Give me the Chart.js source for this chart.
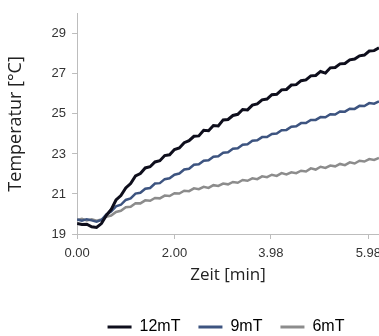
<!DOCTYPE html>
<html>
<head>
  <meta charset="UTF-8">
  <title>Temperatur</title>
  <script src="https://cdn.jsdelivr.net/npm/chart.js"></script>
</head>
<body style="margin:0;background:#fff">
  <canvas id="chart" width="379" height="336"></canvas>
  <script>
    const times = [0.0, 0.1, 0.2, 0.3, 0.4, 0.5, 0.6, 0.7, 0.8, 0.9,
      1.0, 1.1, 1.2, 1.3, 1.4, 1.5, 1.6, 1.7, 1.8, 1.9,
      2.0, 2.1, 2.2, 2.3, 2.4, 2.5, 2.6, 2.7, 2.8, 2.9,
      3.0, 3.1, 3.2, 3.3, 3.4, 3.5, 3.6, 3.7, 3.8, 3.9,
      4.0, 4.1, 4.2, 4.3, 4.4, 4.5, 4.6, 4.7, 4.8, 4.9,
      5.0, 5.1, 5.2, 5.3, 5.4, 5.5, 5.6, 5.7, 5.8, 5.9,
      6.0, 6.1, 6.2];

    const t12mT = [19.52, 19.47, 19.49, 19.36, 19.33, 19.52, 19.93, 20.22, 20.70, 20.92,
      21.30, 21.52, 21.90, 22.02, 22.30, 22.36, 22.60, 22.66, 22.92, 22.96,
      23.22, 23.30, 23.56, 23.66, 23.88, 23.90, 24.18, 24.16, 24.42, 24.40,
      24.70, 24.72, 24.92, 24.98, 25.22, 25.20, 25.44, 25.50, 25.70, 25.74,
      25.96, 25.98, 26.20, 26.22, 26.44, 26.46, 26.66, 26.70, 26.90, 26.92,
      27.12, 27.04, 27.30, 27.32, 27.50, 27.52, 27.70, 27.74, 27.90, 27.94,
      28.14, 28.16, 28.30];

    const t9mT = [19.72, 19.66, 19.74, 19.68, 19.62, 19.70, 19.98, 20.12, 20.38, 20.46,
      20.70, 20.78, 21.02, 21.06, 21.26, 21.30, 21.52, 21.54, 21.74, 21.78,
      21.96, 22.02, 22.22, 22.26, 22.46, 22.48, 22.66, 22.68, 22.86, 22.88,
      23.06, 23.08, 23.26, 23.28, 23.46, 23.48, 23.66, 23.68, 23.84, 23.84,
      24.00, 24.02, 24.18, 24.20, 24.36, 24.38, 24.54, 24.54, 24.70, 24.70,
      24.84, 24.83, 24.98, 24.97, 25.12, 25.11, 25.26, 25.25, 25.40, 25.39,
      25.54, 25.51, 25.62];

    const t6mT = [19.70, 19.76, 19.68, 19.74, 19.66, 19.72, 19.86, 19.92, 20.10, 20.16,
      20.34, 20.36, 20.54, 20.53, 20.68, 20.66, 20.80, 20.78, 20.92, 20.90,
      21.04, 21.02, 21.16, 21.14, 21.28, 21.24, 21.36, 21.30, 21.44, 21.40,
      21.52, 21.48, 21.60, 21.56, 21.70, 21.66, 21.78, 21.74, 21.88, 21.84,
      21.96, 21.90, 22.04, 21.98, 22.08, 22.04, 22.16, 22.12, 22.28, 22.22,
      22.36, 22.30, 22.42, 22.38, 22.50, 22.44, 22.58, 22.52, 22.66, 22.62,
      22.74, 22.70, 22.80];

    const xTicks = [0, 2.00, 3.98, 5.98];
    const yTicks = [19, 21, 23, 25, 27, 29];

    const toPoints = arr => arr.map((v, i) => ({ x: times[i], y: v }));

    // legend sits centred under the plot, a bit lower than chart.js puts it
    const shiftLegend = {
      id: 'shiftLegend',
      afterLayout(chart) {
        const lg = chart.legend;
        lg.left += 34; lg.right += 34;
        lg.top += 9; lg.bottom += 9;
      }
    };

    const ctx = document.getElementById('chart').getContext('2d');
    new Chart(ctx, {
      type: 'line',
      data: {
        datasets: [
          { label: '12mT', data: toPoints(t12mT), borderColor: '#0e0e1c', backgroundColor: '#0e0e1c', borderWidth: 3 },
          { label: '9mT', data: toPoints(t9mT), borderColor: '#3d5480', backgroundColor: '#3d5480', borderWidth: 2.5 },
          { label: '6mT', data: toPoints(t6mT), borderColor: '#8c8c8c', backgroundColor: '#8c8c8c', borderWidth: 2.5 }
        ]
      },
      plugins: [shiftLegend],
      options: {
        responsive: false,
        animation: false,
        layout: { padding: { top: 4, right: 0, bottom: 0, left: 5 } },
        elements: { point: { radius: 0 }, line: { tension: 0 } },
        plugins: {
          tooltip: { enabled: false },
          legend: {
            position: 'bottom',
            labels: {
              boxWidth: 24,
              boxHeight: 3,
              padding: 18,
              color: '#222',
              font: { family: 'Liberation Sans', size: 16 },
              generateLabels: chart => chart.data.datasets.map((ds, i) => ({
                text: ds.label, fillStyle: ds.borderColor, strokeStyle: ds.borderColor,
                lineWidth: 0, datasetIndex: i, hidden: false
              }))
            }
          }
        },
        scales: {
          x: {
            type: 'linear',
            min: 0,
            max: 6.2,
            afterBuildTicks: s => { s.ticks = xTicks.map(v => ({ value: v })); },
            afterFit: s => { s.paddingRight = 0; },
            ticks: {
              callback: v => v.toFixed(2),
              color: '#333',
              font: { family: 'Liberation Sans', size: 13 },
              maxRotation: 0,
              padding: 7
            },
            grid: { drawOnChartArea: false, tickLength: 5, color: '#bdbdbd' },
            border: { color: '#bdbdbd' },
            title: {
              display: true,
              text: 'Zeit [min]',
              color: '#222',
              font: { family: 'Open Sans', size: 17 },
              padding: { top: -4, bottom: 7 }
            }
          },
          y: {
            min: 19,
            max: 30,
            afterBuildTicks: s => { s.ticks = yTicks.map(v => ({ value: v })); },
            ticks: {
              color: '#333',
              font: { family: 'Liberation Sans', size: 13 },
              padding: 6
            },
            grid: { drawOnChartArea: false, tickLength: 5, color: '#bdbdbd' },
            border: { color: '#bdbdbd' },
            title: {
              display: true,
              text: 'Temperatur [°C]',
              color: '#222',
              font: { family: 'Open Sans', size: 18 },
              padding: { top: 0, bottom: 19 }
            }
          }
        }
      }
    });
  </script>
</body>
</html>
